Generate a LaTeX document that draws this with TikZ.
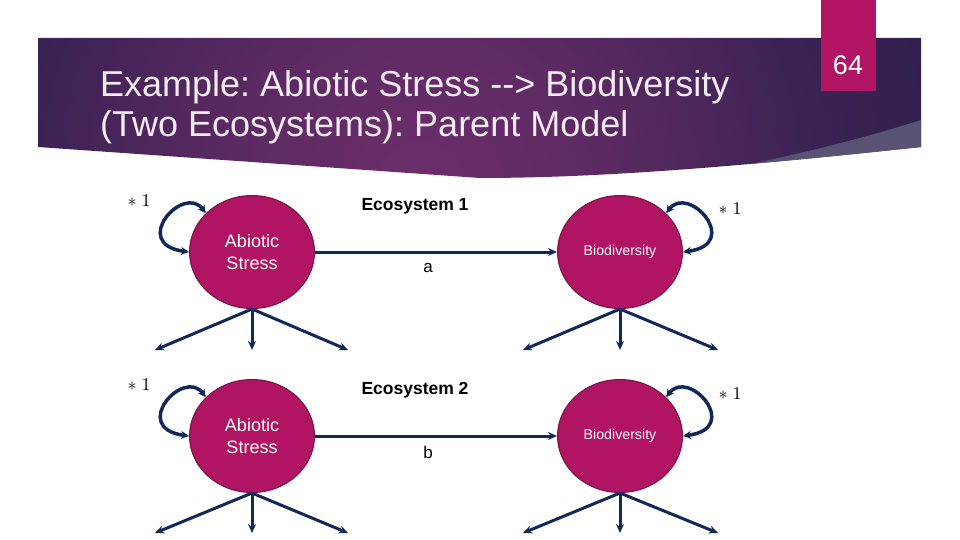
\documentclass[tikz,border=0pt]{standalone}
\usepackage[no-math]{fontspec}
\setmainfont{Liberation Sans}
\usepackage{xcolor}
\usepackage{graphicx}
\usetikzlibrary{arrows.meta,positioning,shapes.geometric,calc}
\frenchspacing
\definecolor{latentfill}{RGB}{176,20,98}
\definecolor{latentdraw}{RGB}{120,18,70}
\definecolor{pathnavy}{RGB}{18,40,88}
\definecolor{bancenter}{RGB}{108,46,108}
\definecolor{bancore}{RGB}{92,42,98}
\definecolor{banmid}{RGB}{58,34,84}
\definecolor{banedge}{RGB}{38,29,68}
\definecolor{banband}{RGB}{90,82,116}
\definecolor{titletext}{RGB}{245,235,245}
\pgfdeclareradialshading{bannershade}{\pgfpoint{0bp}{0bp}}{color(0bp)=(bancenter); color(8bp)=(bancore); color(18bp)=(banmid); color(29bp)=(banedge); color(50bp)=(banedge)}
\newcommand{\fixone}{\scalebox{1.8}{$\ast\ 1$}}

\begin{document}
\begin{tikzpicture}[x=1pt, y=-1pt,
    latent/.style={ellipse, draw=latentdraw, line width=1pt, fill=latentfill, minimum width=125pt, minimum height=113pt, text=white, align=center, inner sep=0pt},
    edgeline/.style={pathnavy, line width=3pt, -{Stealth[length=9pt,width=8pt]}},
    varloop/.style={pathnavy, line width=3.5pt, {Stealth[length=8pt,width=8pt]}-{Stealth[length=8pt,width=8pt]}},
    title/.style={font=\fontsize{36}{40}\selectfont, text=titletext, inner sep=0pt},
    eco/.style={font=\fontsize{17.5}{20}\selectfont\bfseries},
    coef/.style={font=\fontsize{17}{20}\selectfont},
    fix/.style={inner sep=0pt}
]
\useasboundingbox (0,0) rectangle (960,540);
\fill[white] (0,0) rectangle (960,540);

% title banner
\begin{scope}
    \clip (38,38) -- (921,38) -- (921,147) .. controls (780,162) and (620,178) .. (480,178) -- (38,147) -- cycle;
    \shade[shading=bannershade] (420,185) circle (560);
    \fill[banband] (921,120) .. controls (840,146) and (740,168) .. (640,185) -- (921,185) -- cycle;
\end{scope}
\fill[latentfill] (821,0) rectangle (876,91);
\node[font=\fontsize{27}{27}\selectfont, text=white] (pagenum) at (848,65) {64};
\node[title, anchor=base west] (title1) at (100,97) {Example: Abiotic Stress {-}{-}> Biodiversity};
\node[title, anchor=base west] (title2) at (100,137) {(Two Ecosystems): Parent Model};

% ecosystem 1
\node[latent, font=\fontsize{18}{22}\selectfont] (stress1) at (252,252) {Abiotic\\Stress};
\node[latent, font=\fontsize{14.2}{17}\selectfont] (bio1) at (620,252) {Biodiversity};
\node[eco] (eco1) at (415,206) {Ecosystem 1};
\draw[edgeline] (stress1) -- (bio1);
\node[coef] (coefa) at (428,268) {a};
\draw[varloop] (stress1.140) .. controls +(-22,-30) and +(-60,-8) .. (stress1.west);
\draw[varloop] (bio1.40) .. controls +(22,-30) and +(60,-8) .. (bio1.east);
\node[fix] (fixs1) at (139,201) {\fixone};
\node[fix] (fixb1) at (730,209) {\fixone};
\coordinate (s1l) at (155,350);
\coordinate (s1m) at (252,350);
\coordinate (s1r) at (348,350);
\coordinate (b1l) at (523,350);
\coordinate (b1m) at (620,350);
\coordinate (b1r) at (718,350);
\foreach \t in {s1l,s1m,s1r} \draw[edgeline] (stress1.south) -- (\t);
\foreach \t in {b1l,b1m,b1r} \draw[edgeline] (bio1.south) -- (\t);

% ecosystem 2
\node[latent, font=\fontsize{18}{22}\selectfont] (stress2) at (252,436) {Abiotic\\Stress};
\node[latent, font=\fontsize{14.2}{17}\selectfont] (bio2) at (620,436) {Biodiversity};
\node[eco] (eco2) at (415,390) {Ecosystem 2};
\draw[edgeline] (stress2) -- (bio2);
\node[coef] (coefb) at (428,452) {b};
\draw[varloop] (stress2.140) .. controls +(-22,-30) and +(-60,-8) .. (stress2.west);
\draw[varloop] (bio2.40) .. controls +(22,-30) and +(60,-8) .. (bio2.east);
\node[fix] (fixs2) at (139,385) {\fixone};
\node[fix] (fixb2) at (730,394) {\fixone};
\coordinate (s2l) at (155,533);
\coordinate (s2m) at (252,533);
\coordinate (s2r) at (348,533);
\coordinate (b2l) at (523,533);
\coordinate (b2m) at (620,533);
\coordinate (b2r) at (718,533);
\foreach \t in {s2l,s2m,s2r} \draw[edgeline] (stress2.south) -- (\t);
\foreach \t in {b2l,b2m,b2r} \draw[edgeline] (bio2.south) -- (\t);
\end{tikzpicture}
\end{document}
